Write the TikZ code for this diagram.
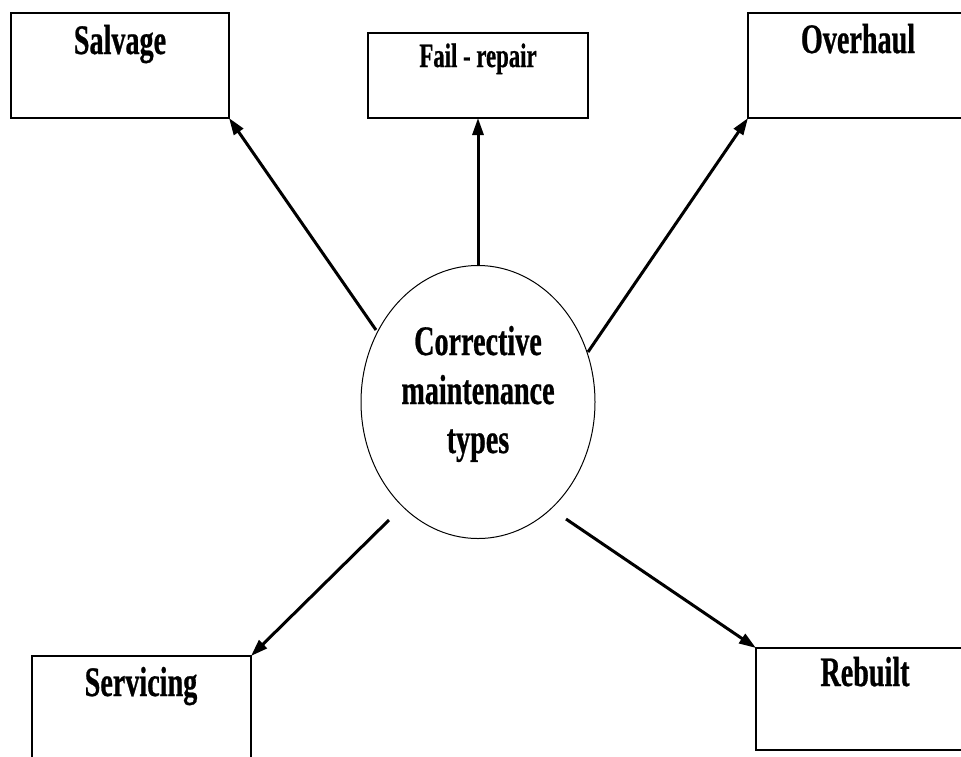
\documentclass[tikz,border=0pt]{standalone}
\usepackage{fontspec}
\setmainfont{Liberation Serif}
\newfontfamily\condfont{Liberation Serif}[FakeStretch=0.67,FakeBold=0.6]
\usetikzlibrary{arrows.meta,shapes.geometric}
\begin{document}
\begin{tikzpicture}[x=1pt,y=-1pt,
  box/.style={draw, line width=1.5pt, inner sep=0pt, outer sep=0pt},
  lbl/.style={font=\condfont\bfseries\fontsize{42}{49}\selectfont, anchor=base, inner sep=0pt},
  smalllbl/.style={font=\condfont\bfseries\fontsize{34}{40}\selectfont, anchor=base, inner sep=0pt},
  conn/.style={line width=3pt, -{Triangle[length=17pt,width=11pt]}}
]
\path[use as bounding box, clip] (0,0) rectangle (961,756);
\fill[white] (0,0) rectangle (961,756);

% boxes
\node[box, minimum width=218pt, minimum height=105pt] (salv) at (120,65.5) {};
\node[box, minimum width=220pt, minimum height=85pt] (fail) at (478,75.5) {};
\node[box, minimum width=220pt, minimum height=105pt] (over) at (858,65.5) {};
\node[box, minimum width=219pt, minimum height=106pt] (serv) at (141.5,709) {};
\node[box, minimum width=218pt, minimum height=102pt] (rebu) at (865,699) {};

% box labels
\node[lbl] (salvT) at (120,54) {Salvage};
\node[smalllbl] (failT) at (478,67) {Fail - repair};
\node[lbl] (overT) at (858,53) {Overhaul};
\node[lbl] (servT) at (141,696) {Servicing};
\node[lbl] (rebuT) at (865,686) {Rebuilt};

% central ellipse
\node[ellipse, draw, line width=1pt, minimum width=234pt, minimum height=273pt, inner sep=0pt] (ell) at (478,402) {};
\node[lbl] (ct1) at (478,355) {Corrective};
\node[lbl] (ct2) at (478,404) {maintenance};
\node[lbl] (ct3) at (478,453) {types};

% arrow starts
\coordinate (sS) at (376,330);
\coordinate (sF) at (478,266);
\coordinate (sO) at (588,352);
\coordinate (sV) at (389,520);
\coordinate (sR) at (566,519);

\draw[conn] (sS) -- (salv.south east);
\draw[conn] (sF) -- (fail.south);
\draw[conn] (sO) -- (over.south west);
\draw[conn] (sV) -- (serv.north east);
\draw[conn] (sR) -- (rebu.north west);
\end{tikzpicture}
\end{document}
